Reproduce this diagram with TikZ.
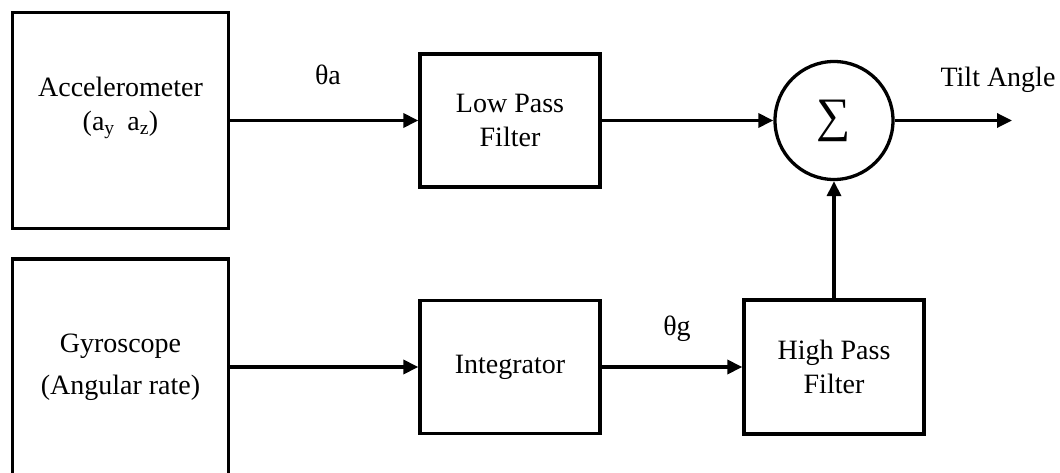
\documentclass[tikz,border=0pt]{standalone}
\usepackage{fontspec}
\setmainfont{Liberation Serif}
\usetikzlibrary{arrows.meta}
\begin{document}
\begin{tikzpicture}[x=1pt,y=-1pt,
  box/.style={draw, line width=3.3pt, rectangle, inner sep=0pt},
  txt/.style={align=center, font=\fontsize{28}{34}\selectfont, inner sep=0pt},
  lbl/.style={anchor=base, font=\fontsize{28}{34}\selectfont, inner sep=0pt},
  arr/.style={line width=3.3pt, -{Triangle[length=15pt,width=14pt]}},
  sumnode/.style={draw, line width=3.3pt, circle, minimum size=118pt, inner sep=0pt,
    font=\fontsize{48}{48}\selectfont}]
  \useasboundingbox (0,0) rectangle (1060,473);
  \clip (0,0) rectangle (1060,473);

  % sensor blocks
  \node[box, minimum width=216pt, minimum height=216pt] (acc) at (120.5,120.5) {};
  \node[txt] (acctext) at (120.5,108) {Accelerometer\\(a\textsubscript{y}\hspace{0.45em}a\textsubscript{z})};
  \node[box, minimum width=216pt, minimum height=216pt] (gyro) at (120.5,367) {};
  \node[txt] (gyrotext) at (120.5,367) {Gyroscope\\[8pt](Angular rate)};

  % processing blocks
  \node[box, txt, minimum width=180pt, minimum height=133pt] (lpf) at (510,120.5) {Low Pass\\Filter};
  \node[box, txt, minimum width=180pt, minimum height=133pt] (int) at (510,367) {Integrator};
  \node[box, txt, minimum width=180pt, minimum height=134pt] (hpf) at (834,367) {High Pass\\Filter};

  % summing junction
  \node[sumnode] (sum) at (834,120.5) {∑};
  \coordinate (out) at (1012,120.5);

  % signal flow
  \draw[arr] (acc.east) -- (lpf.west);
  \draw[arr] (lpf.east) -- (sum.west);
  \draw[arr] (sum.east) -- (out);
  \draw[arr] (gyro.east |- int.west) -- (int.west);
  \draw[arr] (int.east) -- (hpf.west);
  \draw[arr] (hpf.north) -- (sum.south);

  % signal labels
  \node[lbl] (thetaa) at (328,85) {θa};
  \node[lbl] (thetag) at (677,335) {θg};
  \node[lbl] (tilt) at (998,87) {Tilt Angle};
\end{tikzpicture}
\end{document}
